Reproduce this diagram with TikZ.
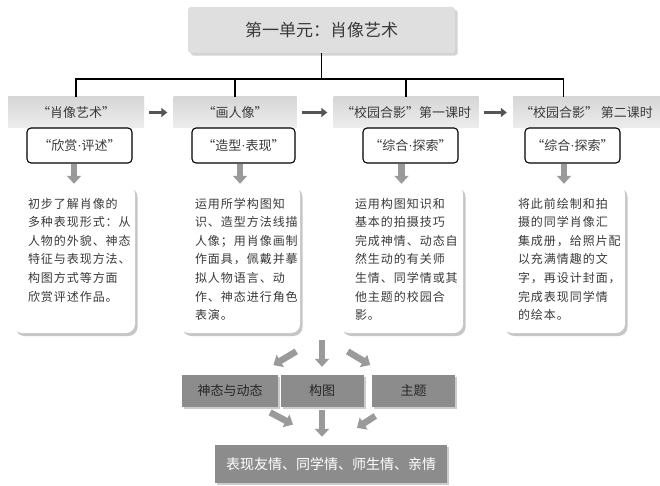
\documentclass[tikz,border=0pt]{standalone}
\usepackage{fontspec}
\setmainfont{Noto Sans CJK SC}
\newfontfamily\desctxt[LetterSpace=8]{Noto Sans CJK SC}
\newfontfamily\latintxt{Liberation Serif}
\newcommand\middot{{\latintxt\textperiodcentered}}
\usetikzlibrary{positioning,arrows.meta,shadows}
\definecolor{ink}{HTML}{3A3A3A}
\definecolor{stepgray}{HTML}{555555}
\definecolor{fatgray}{HTML}{9A9A9A}
\definecolor{keygray}{HTML}{8C8C8C}

\begin{document}
\begin{tikzpicture}[x=1pt,y=-1pt,
  unitbox/.style={fill=gray!25,rounded corners=3pt,drop shadow={opacity=.35},
    minimum width=267pt,minimum height=46pt,font=\fontsize{17}{20}\selectfont,text=ink},
  headbox/.style={top color=gray!32,bottom color=gray!14,minimum height=31pt,
    inner sep=0pt,font=\fontsize{13}{15}\selectfont,text=ink},
  tagbox/.style={draw=black,line width=1.1pt,fill=white,rounded corners=4pt,
    minimum height=35pt,inner sep=0pt,font=\fontsize{13}{15}\selectfont,text=ink},
  descbox/.style={fill=white,rounded corners=9pt,
    drop shadow={shadow xshift=2.5pt,shadow yshift=-3pt,opacity=.45},
    inner xsep=15pt,inner ysep=13pt,font=\desctxt\fontsize{12}{18.6}\selectfont,text=ink},
  keybox/.style={fill=keygray,drop shadow={shadow xshift=2pt,shadow yshift=-2pt,opacity=.4},
    minimum height=32pt,inner sep=0pt,font=\fontsize{13}{15}\selectfont,text=black!85},
  resbox/.style={keybox,minimum height=38pt,font=\fontsize{14}{16}\selectfont,text=white},
  link/.style={draw=black,line width=1.2pt},
  steparrow/.style={draw=stepgray,line width=3pt,-{Triangle[length=6pt,width=9pt]},
    shorten <=5pt,shorten >=6pt},
  fatarrow/.style={draw=fatgray,line width=6.5pt,-{Triangle[length=8pt,width=14pt]}}]
  \useasboundingbox (0,0) rectangle (660,486);

  % unit title and the four lessons
  \node[unitbox] (unit) at (321.5,30) {第一单元：肖像艺术};
  \node[headbox,minimum width=136pt] (h1) at (76,112.5) {“肖像艺术”};
  \node[headbox,minimum width=123pt] (h2) at (235,112.5) {“画人像”};
  \node[headbox,minimum width=145pt] (h3) at (406,112.5) {“校园合影”第一课时};
  \node[headbox,minimum width=147pt] (h4) at (586.5,112.5) {“校园合影” 第二课时};

  \coordinate (bus) at (321.5,79);
  \draw[link] (unit) -- (bus);
  \draw[link] (h1.north) |- (bus) -| ([xshift=-23pt]h4.north);
  \draw[link] (h2.north) -- (h2.north |- bus);
  \draw[link] (h3.north) -- (h3.north |- bus);

  \draw[steparrow] (h1) -- (h2);
  \draw[steparrow] (h2) -- (h3);
  \draw[steparrow] (h3) -- (h4);

  \node[tagbox,minimum width=105pt] (t1) at (79.5,145.5) {“欣赏\middot 评述”};
  \node[tagbox,minimum width=103pt] (t2) at (243.5,145.5) {“造型\middot 表现”};
  \node[tagbox,minimum width=95pt] (t3) at (410.5,145.5) {“综合\middot 探索”};
  \node[tagbox,minimum width=95pt] (t4) at (572.5,145.5) {“综合\middot 探索”};

  % lesson texts
  \node[descbox] (d1) at (74,259) {\parbox[t][122pt][t]{92pt}{初步了解肖像的\\多种表现形式：从\\人物的外貌、神态\\特征与表现方法、\\构图方式等方面\\欣赏评述作品。}};
  \node[descbox] (d2) at (240,259) {\parbox[t][122pt][t]{90pt}{运用所学构图知\\识、造型方法线描\\人像；用肖像画制\\作面具，佩戴并摹\\拟人物语言、动\\作、神态进行角色\\表演。}};
  \node[descbox] (d3) at (401.5,259) {\parbox[t][122pt][t]{93pt}{运用构图知识和\\基本的拍摄技巧\\完成神情、动态自\\然生动的有关师\\生情、同学情或其\\他主题的校园合\\影。}};
  \node[descbox] (d4) at (564,259) {\parbox[t][122pt][t]{92pt}{将此前绘制和拍\\摄的同学肖像汇\\集成册，给照片配\\以充满情趣的文\\字，再设计封面，\\完成表现同学情\\的绘本。}};

  \draw[fatarrow,shorten >=1pt] (d1 |- t1.south) -- (d1.north);
  \draw[fatarrow,shorten >=1pt] (d2 |- t2.south) -- (d2.north);
  \draw[fatarrow,shorten >=1pt] (d3 |- t3.south) -- (d3.north);
  \draw[fatarrow,shorten >=1pt] (d4 |- t4.south) -- (d4.north);

  % key points and aim
  \node[keybox,minimum width=96pt] (k1) at (230,391) {神态与动态};
  \node[keybox,minimum width=83pt] (k2) at (322,391) {构图};
  \node[keybox,minimum width=83pt] (k3) at (413.5,391) {主题};
  \node[resbox,minimum width=232pt] (res) at (331,464) {表现友情、同学情、师生情、亲情};

  \coordinate (src) at (322,336);
  \draw[fatarrow,shorten <=30pt,shorten >=19pt] (src) -- (k1);
  \draw[fatarrow,shorten <=4pt,shorten >=8pt] (src) -- (k2);
  \draw[fatarrow,shorten <=30pt,shorten >=19pt] (src) -- (k3);

  \draw[fatarrow,shorten <=11pt,shorten >=43pt] (k1) -- (res.north);
  \draw[fatarrow,shorten <=3pt,shorten >=8pt] (k2.south) -- (k2.south |- res.north);
  \draw[fatarrow,shorten <=16pt,shorten >=31pt] (k3) -- (res.north);
\end{tikzpicture}
\end{document}
